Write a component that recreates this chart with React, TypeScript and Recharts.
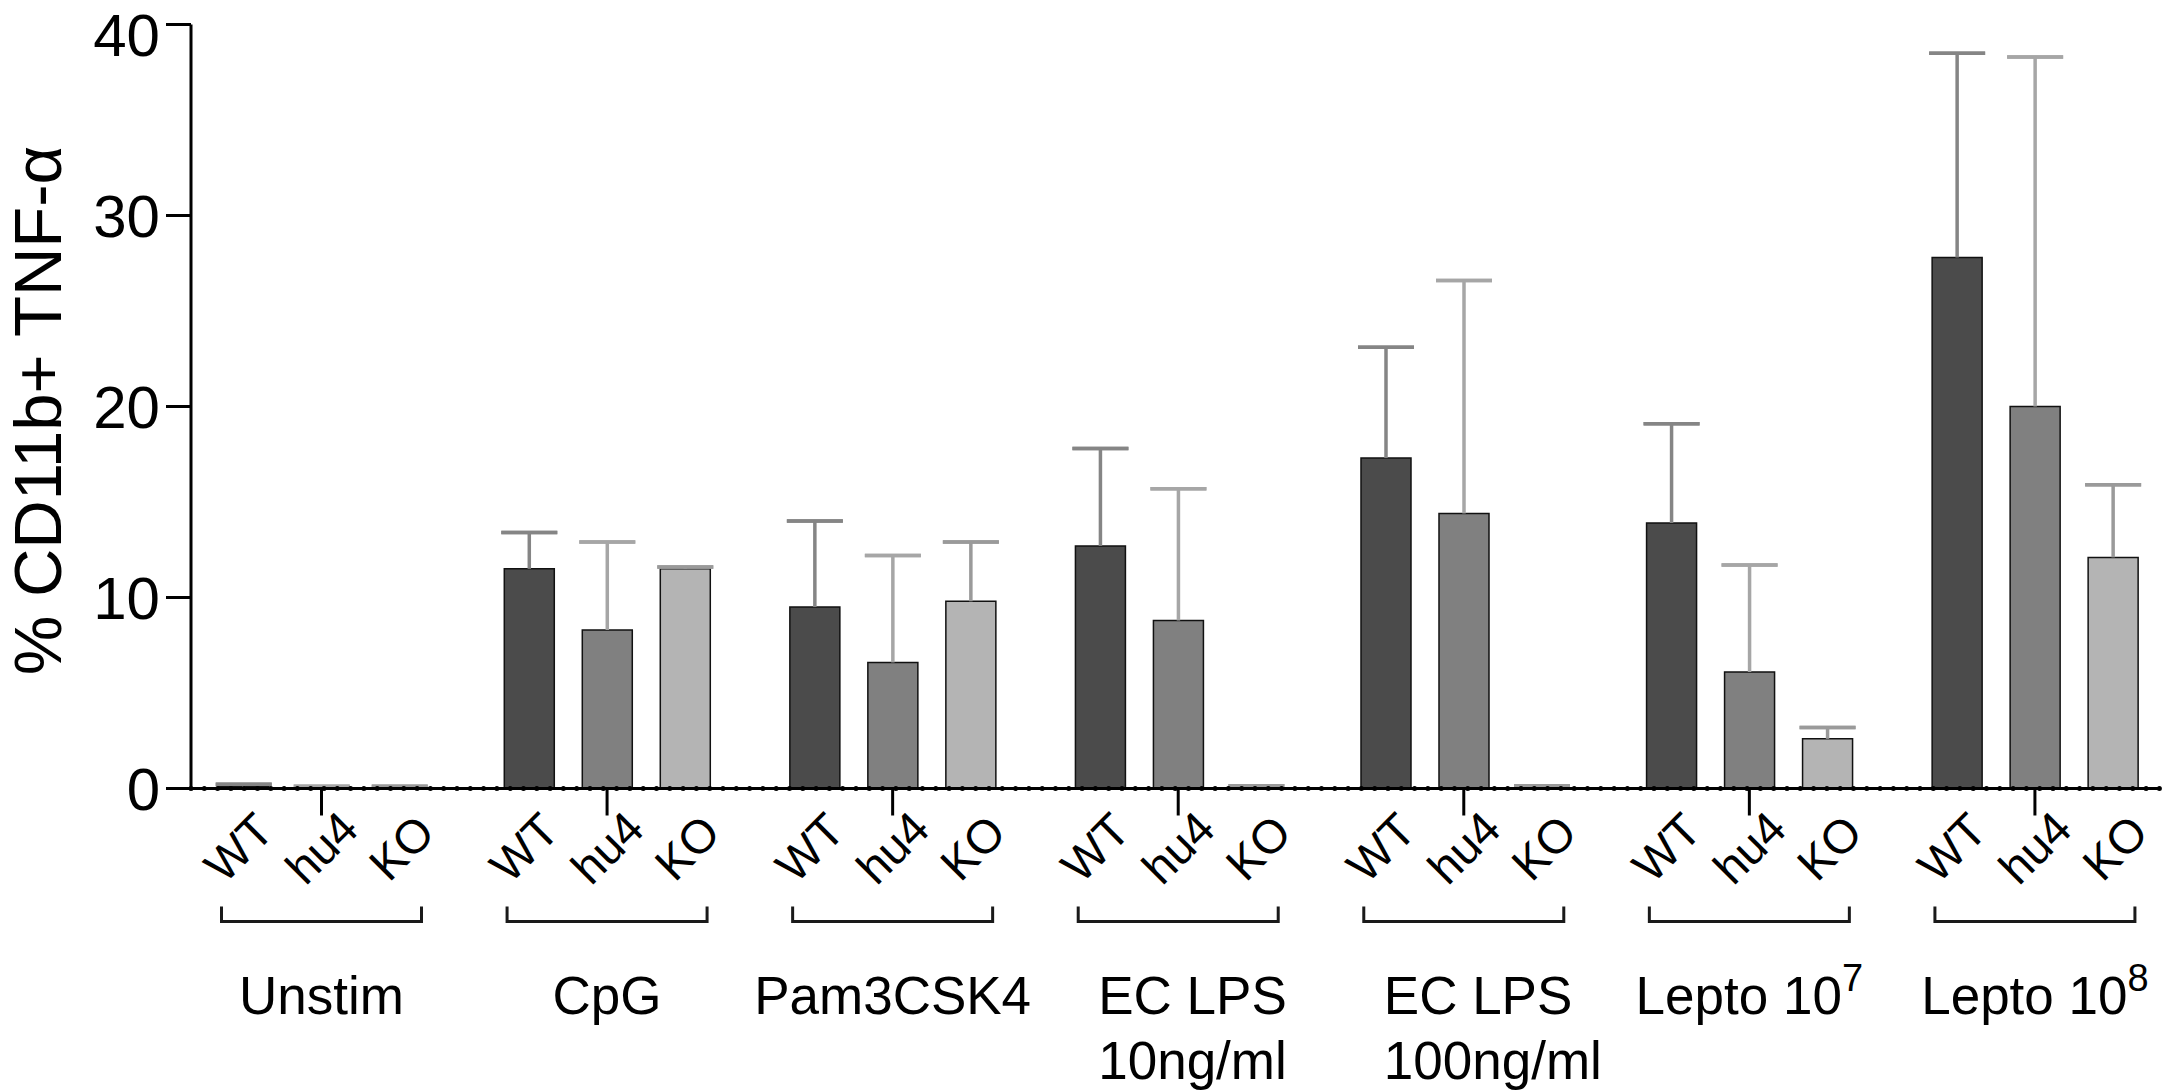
import React from 'react';
import { BarChart, Bar, XAxis, YAxis, ErrorBar, ReferenceLine, Label } from 'recharts';

// stimulation groups, one tick per group (drawn at the hu4 bar)
const groups = ['Unstim', 'CpG', 'Pam3CSK4', 'EC LPS\n10ng/ml', 'EC LPS\n100ng/ml', 'Lepto 10^7', 'Lepto 10^8'];
const genotypes = ['WT', 'hu4', 'KO'];

// % CD11b+ TNF-α, bar = mean, top = end of the upper error bar
const wtMean = [0.1, 11.5, 9.5, 12.7, 17.3, 13.9, 27.8];
const wtTop = [0.22, 13.4, 14.0, 17.8, 23.1, 19.1, 38.5];
const hu4Mean = [0.05, 8.3, 6.6, 8.8, 14.4, 6.1, 20.0];
const hu4Top = [0.12, 12.9, 12.2, 15.7, 26.6, 11.7, 38.3];
const koMean = [0.05, 11.5, 9.8, 0.05, 0.05, 2.6, 12.1];
const koTop = [0.12, 11.6, 12.9, 0.15, 0.15, 3.2, 15.9];

const yTicks = [0, 10, 20, 30, 40];

// errStem: line from the bar top up; errCap: zero-length range at the top (cap only)
const data = groups.map((g, i) => ({
  pos: i,
  group: g,
  wt: wtMean[i],
  hu4: hu4Mean[i],
  ko: koMean[i],
  wtStem: [0, wtTop[i] - wtMean[i]],
  wtCap: [wtMean[i] - wtTop[i], wtTop[i] - wtMean[i]],
  hu4Stem: [0, hu4Top[i] - hu4Mean[i]],
  hu4Cap: [hu4Mean[i] - hu4Top[i], hu4Top[i] - hu4Mean[i]],
  koStem: [0, koTop[i] - koMean[i]],
  koCap: [koMean[i] - koTop[i], koTop[i] - koMean[i]],
}));

const FONT = '"Liberation Sans", Arial, Helvetica, sans-serif';
const BAR_SIZE = 50;
const BAR_GAP = 28;
const PITCH = BAR_SIZE + BAR_GAP;

const GroupTick = (props: any) => {
  const { x, y, payload } = props;
  const label: string = groups[payload.value] ?? '';
  const nudges = [-5, 0, 2];
  const lines = label.split('\n');

  const renderLine = (text: string, key: number, tx: number, ty: number, anchor: string) => {
    const [base, sup] = text.split('^');
    return (
      <text key={key} x={tx} y={ty} textAnchor={anchor} fontSize={53} fill="#000" fontFamily={FONT}>
        {base}
        {sup && (
          <tspan fontSize={38} dy={-23}>
            {sup}
          </tspan>
        )}
      </text>
    );
  };

  return (
    <g>
      {genotypes.map((name, k) => {
        const cx = x + (k - 1) * PITCH + nudges[k];
        const cy = y + 32;
        return (
          <text
            key={name}
            x={cx}
            y={cy}
            dy="0.35em"
            textAnchor="middle"
            fontSize={47}
            fill="#000"
            fontFamily={FONT}
            transform={`rotate(-45 ${cx} ${cy})`}
          >
            {name}
          </text>
        );
      })}
      <path
        d={`M${x - 100},${y + 91} V${y + 106} H${x + 100} V${y + 91}`}
        fill="none"
        stroke="#1a1a1a"
        strokeWidth={3}
      />
      {lines.length === 1
        ? renderLine(lines[0], 0, x, y + 198, 'middle')
        : lines.map((l, j) => renderLine(l, j, x - 80, y + 198 + j * 65, 'start'))}
    </g>
  );
};

const YTitle = (props: any) => {
  const vb = props.viewBox || { x: 71, y: 24.5, width: 120, height: 764 };
  const cx = vb.x - 10;
  const cy = vb.y + vb.height / 2 + 4;
  return (
    <text
      x={cx}
      y={cy}
      textAnchor="middle"
      fontSize={67}
      fill="#000"
      fontFamily={FONT}
      transform={`rotate(-90 ${cx} ${cy})`}
    >
      % CD11b+ TNF-α
    </text>
  );
};

const series = [
  { key: 'wt', fill: '#4b4b4b', err: '#858585' },
  { key: 'hu4', fill: '#808080', err: '#a6a6a6' },
  { key: 'ko', fill: '#b4b4b4', err: '#9a9a9a' },
];

export default function App() {
  return (
    <div style={{ position: 'absolute', left: 0, top: 0, fontFamily: FONT, background: '#fff' }}>
      <BarChart
        width={2165}
        height={1090}
        data={data}
        margin={{ top: 24.5, right: 5, left: 71, bottom: 271.5 }}
        barGap={BAR_GAP}
      >
        <XAxis
          type="number"
          dataKey="pos"
          domain={[-0.457, 6.438]}
          allowDataOverflow
          ticks={[0, 1, 2, 3, 4, 5, 6]}
          interval={0}
          tickSize={27}
          tickMargin={0}
          height={30}
          axisLine={{ stroke: '#000', strokeWidth: 3 }}
          tickLine={{ stroke: '#000', strokeWidth: 3 }}
          tick={<GroupTick />}
        />
        <YAxis
          type="number"
          domain={[0, 40]}
          ticks={yTicks}
          width={120}
          tickSize={25}
          tickMargin={6}
          axisLine={{ stroke: '#000', strokeWidth: 3 }}
          tickLine={{ stroke: '#000', strokeWidth: 3 }}
          tick={{ fontSize: 60, fill: '#000', fontFamily: FONT }}
        >
          <Label content={<YTitle />} />
        </YAxis>
        {series.map((s) => (
          <Bar
            key={s.key}
            dataKey={s.key}
            fill={s.fill}
            stroke="#111"
            strokeWidth={1.5}
            barSize={BAR_SIZE}
            isAnimationActive={false}
          >
            <ErrorBar dataKey={`${s.key}Stem`} direction="y" width={0} stroke={s.err} strokeWidth={3.5} isAnimationActive={false} />
            <ErrorBar dataKey={`${s.key}Cap`} direction="y" width={28} stroke={s.err} strokeWidth={3.5} isAnimationActive={false} />
          </Bar>
        ))}
        <ReferenceLine
          y={0}
          stroke="#000"
          strokeWidth={5}
          strokeDasharray="0 13.3"
          strokeLinecap="round"
        />
      </BarChart>
    </div>
  );
}
